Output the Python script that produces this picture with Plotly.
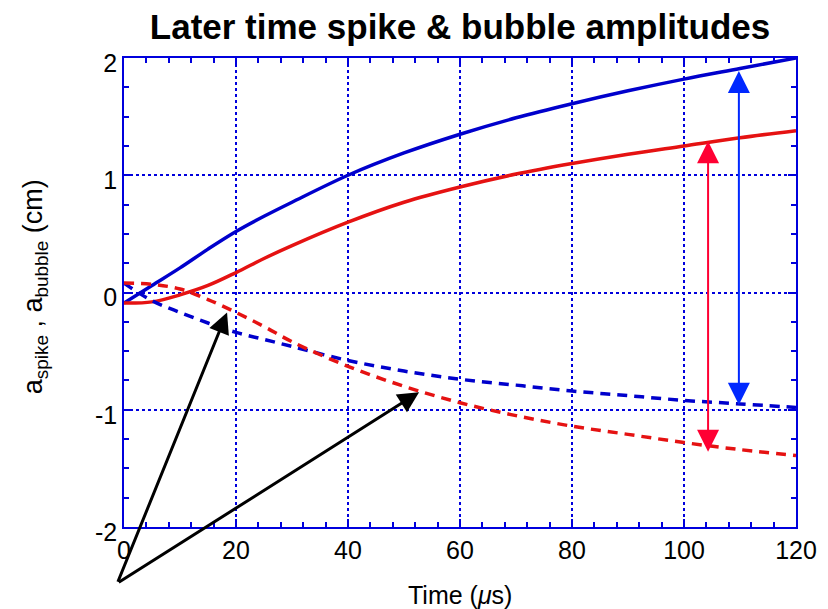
import plotly.graph_objects as go

# ---- data ----
time_us = [0, 5, 10, 15, 20, 25, 30, 40, 50, 60, 70, 80, 90, 100, 110, 120]

spike_blue_solid = [-0.09, 0.06, 0.21, 0.37, 0.52, 0.65, 0.77, 1.00, 1.19, 1.35, 1.49, 1.61, 1.72, 1.82, 1.91, 2.00]
spike_red_solid = [-0.09, -0.08, -0.02, 0.06, 0.17, 0.29, 0.40, 0.60, 0.77, 0.90, 1.01, 1.10, 1.18, 1.25, 1.32, 1.38]
bubble_blue_dash = [0.08, -0.07, -0.17, -0.26, -0.34, -0.40, -0.46, -0.58, -0.67, -0.74, -0.79, -0.84, -0.88, -0.92, -0.95, -0.98]
bubble_red_dash = [0.08, 0.07, 0.03, -0.06, -0.17, -0.29, -0.42, -0.63, -0.80, -0.94, -1.05, -1.14, -1.21, -1.28, -1.34, -1.39]

x_ticks = [0, 20, 40, 60, 80, 100, 120]
x_tick_text = ["0", "20", "40", "60", "80", "100", "120"]
y_ticks = [-2, -1, 0, 1, 2]
y_tick_text = ["-2", "-1", "0", "1", "2"]

# arrows: (x_head, y_head, x_tail, y_tail)
red_span = (104.3, 1.29, 104.3, -1.37)
blue_span = (109.8, 1.89, 109.8, -0.97)
pointer_tail = (-1.2, -2.48)
pointer_heads = [(18.4, -0.17), (52.7, -0.85)]

LINE_BLUE = "#0000cc"
LINE_RED = "#e51212"
ARROW_RED = "#ff0033"
ARROW_BLUE = "#0028ff"
AX_BLUE = "#0000dd"
FONT = "Liberation Sans, Arial, Helvetica, sans-serif"

fig = go.Figure()
fig.add_trace(go.Scatter(x=time_us, y=spike_blue_solid, mode="lines",
                         line=dict(color=LINE_BLUE, width=3.5, shape="spline")))
fig.add_trace(go.Scatter(x=time_us, y=spike_red_solid, mode="lines",
                         line=dict(color=LINE_RED, width=3.5, shape="spline")))
fig.add_trace(go.Scatter(x=time_us, y=bubble_blue_dash, mode="lines",
                         line=dict(color=LINE_BLUE, width=3.5, dash="10px,7px", shape="spline")))
fig.add_trace(go.Scatter(x=time_us, y=bubble_red_dash, mode="lines",
                         line=dict(color=LINE_RED, width=3.5, dash="10px,7px", shape="spline")))

annotations = []
for (xh, yh, xt, yt), col in [(red_span, ARROW_RED), (blue_span, ARROW_BLUE)]:
    annotations.append(dict(x=xh, y=yh, ax=xt, ay=yt, xref="x", yref="y", axref="x", ayref="y",
                            text="", showarrow=True, arrowside="end+start",
                            arrowhead=2, startarrowhead=2, arrowsize=2.2, startarrowsize=2.2,
                            arrowwidth=2, arrowcolor=col))
for (xh, yh) in pointer_heads:
    annotations.append(dict(x=xh, y=yh, ax=pointer_tail[0], ay=pointer_tail[1],
                            xref="x", yref="y", axref="x", ayref="y",
                            text="", showarrow=True, arrowhead=2, arrowsize=1.4,
                            arrowwidth=3, arrowcolor="black"))

annotations.append(dict(text="Time (<i>μ</i>s)", xref="paper", yref="paper", x=0.5, y=-0.145,
                        xanchor="center", yanchor="middle", showarrow=False,
                        font=dict(family=FONT, size=25, color="black")))
annotations.append(dict(text="a<sub>spike</sub> , a<sub>bubble</sub> (cm)", xref="paper", yref="paper",
                        x=-0.132, y=0.512, textangle=-90, xanchor="center", yanchor="middle",
                        showarrow=False, font=dict(family=FONT, size=27, color="black")))

axis_common = dict(showline=True, linecolor=AX_BLUE, linewidth=1.5, mirror="ticks",
                   ticks="inside", ticklen=8, tickcolor=AX_BLUE, tickwidth=1.5,
                   showgrid=True, gridcolor=AX_BLUE, griddash="dot", gridwidth=1.5,
                   zeroline=False, tickfont=dict(family=FONT, size=25, color="black"))

fig.update_layout(
    width=828, height=609,
    margin=dict(l=124, r=32, t=58, b=82),
    paper_bgcolor="white", plot_bgcolor="white",
    showlegend=False,
    title=dict(text="<b>Later time spike &amp; bubble amplitudes</b>", x=0.5, xref="paper",
               y=1 - 27 / 609, yref="container", yanchor="middle",
               font=dict(family=FONT, size=35, color="black")),
    xaxis=dict(range=[0, 120], tickvals=x_ticks, ticktext=x_tick_text,
               minor=dict(ticks="inside", ticklen=5, dtick=4, tickcolor=AX_BLUE, showgrid=False),
               **axis_common),
    yaxis=dict(range=[-2, 2], tickvals=y_ticks, ticktext=y_tick_text, ticklabelshift=5,
               minor=dict(ticks="inside", ticklen=5, dtick=0.25, tickcolor=AX_BLUE, showgrid=False),
               **axis_common),
    annotations=annotations,
)

fig.write_html("out.html")
